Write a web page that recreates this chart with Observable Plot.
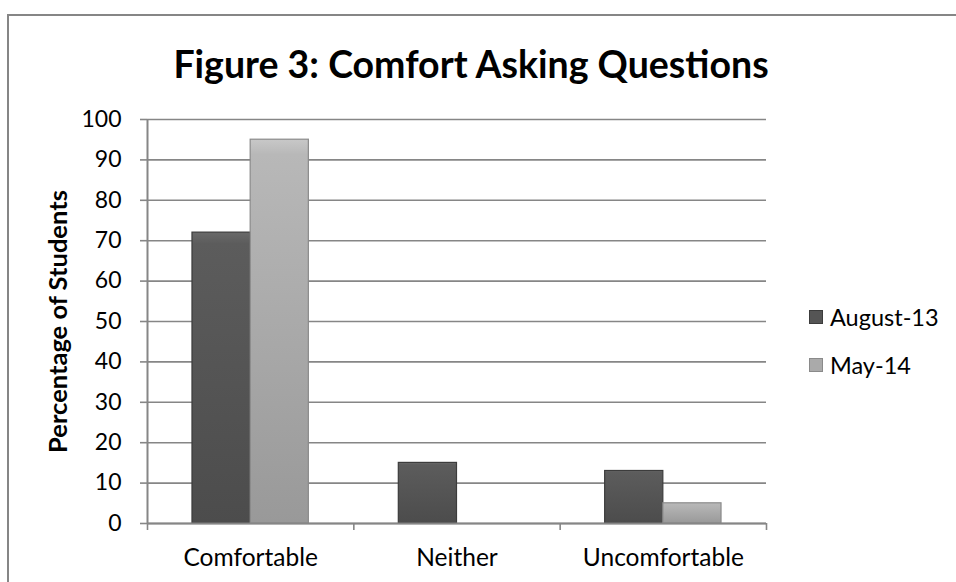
<!DOCTYPE html>
<html>
<head>
<meta charset="utf-8">
<script src="https://cdn.jsdelivr.net/npm/d3@7"></script>
<script src="https://cdn.jsdelivr.net/npm/@observablehq/plot@0.6"></script>
<style>
  html, body { margin: 0; padding: 0; background: #fff; overflow: hidden; }
  #wrap { position: relative; width: 956px; height: 582px; font-family: Lato, "Open Sans", sans-serif; }
  #frame { position: absolute; left: 7px; top: 14px; width: 1200px; height: 900px; border: 2px solid #868686; box-sizing: border-box; }
  #title { position: absolute; left: 0; top: 41px; width: 942px; text-align: center; font-weight: bold; font-size: 37.5px; line-height: 46px; color: #000; }
  #chart { position: absolute; left: 0; top: 0; }
  #legend { position: absolute; left: 809px; top: 293px; font-size: 23.5px; color: #000; }
  .li { display: flex; align-items: center; height: 48px; }
  .sw { width: 14px; height: 14px; margin-right: 7px; box-sizing: border-box; }
</style>
</head>
<body>
<div id="wrap">
  <div id="frame"></div>
  <div id="chart"></div>
  <div id="title">Figure 3: Comfort Asking Questions</div>
  <div id="legend"></div>
</div>
<script>
const categories = ["Comfortable", "Neither", "Uncomfortable"];
const seriesNames = ["August-13", "May-14"];
const august13 = [72, 15, 13];
const may14 = [95, 0, 5];
const yTicks = [0, 10, 20, 30, 40, 50, 60, 70, 80, 90, 100];

const fills = {"August-13": "url(#gAug)", "May-14": "url(#gMay)"};
const strokes = {"August-13": "#3c3c3c", "May-14": "#8a8a8a"};
const swatch = {"August-13": "#555555", "May-14": "#aaaaaa"};

const barW = 0.282; // bar width as fraction of category band
const rows = [];
categories.forEach((c, i) => {
  [august13, may14].forEach((arr, s) => {
    const x1 = i + 0.5 + (s - 1) * barW;
    rows.push({category: c, series: seriesNames[s], value: arr[i], x1, x2: x1 + barW});
  });
});

const chart = Plot.plot({
  width: 956,
  height: 582,
  marginLeft: 147,
  marginRight: 190,
  marginTop: 119,
  marginBottom: 59,
  style: {fontFamily: "Lato, 'Open Sans', sans-serif", fontSize: "23px", color: "#000", background: "transparent"},
  x: {type: "linear", domain: [0, categories.length]},
  y: {domain: [0, 100]},
  marks: [
    Plot.gridY(yTicks, {stroke: "#868686", strokeOpacity: 1, strokeWidth: 1.6}),
    Plot.axisY(yTicks, {tickSize: 7, tickPadding: 19, stroke: "#868686", strokeWidth: 1.6, fontSize: 23,
      label: "Percentage of Students", labelAnchor: "center", labelOffset: 99, labelArrow: "none"}),
    Plot.ruleX([0], {stroke: "#868686", strokeWidth: 2}),
    Plot.rectY(rows, {x1: "x1", x2: "x2", y1: 0, y2: "value",
      fill: d => fills[d.series], stroke: d => strokes[d.series], strokeWidth: 1.2}),
    Plot.ruleY([0], {stroke: "#868686", strokeWidth: 2}),
    Plot.axisX(d3.range(categories.length + 1), {tickSize: 7, stroke: "#868686", strokeWidth: 1.6, tickFormat: () => "", label: null}),
    Plot.axisX(categories.map((c, i) => i + 0.5), {tickSize: 0, tickPadding: 25, fontSize: 24.5, tickFormat: v => categories[Math.floor(v)], label: null})
  ]
});

// gradients for the bevelled bar look
const ns = "http://www.w3.org/2000/svg";
const defs = document.createElementNS(ns, "defs");
defs.innerHTML = `
  <linearGradient id="gAug" x1="0" y1="0" x2="0" y2="1">
    <stop offset="0" stop-color="#6a6a6a"/><stop offset="0.04" stop-color="#5c5c5c"/><stop offset="1" stop-color="#4c4c4c"/>
  </linearGradient>
  <linearGradient id="gMay" x1="0" y1="0" x2="0" y2="1">
    <stop offset="0" stop-color="#c8c8c8"/><stop offset="0.04" stop-color="#b8b8b8"/><stop offset="1" stop-color="#999999"/>
  </linearGradient>`;
chart.insertBefore(defs, chart.firstChild);
// bold, larger y label
chart.querySelectorAll("g[aria-label='y-axis label'] text").forEach(t => {
  t.setAttribute("font-weight", "bold");
  t.setAttribute("font-size", "25.5");
});
document.getElementById("chart").appendChild(chart);

const legend = document.getElementById("legend");
seriesNames.forEach(s => {
  const li = document.createElement("div");
  li.className = "li";
  li.innerHTML = `<div class="sw" style="background:${swatch[s]};border:1px solid ${strokes[s]}"></div><span>${s}</span>`;
  legend.appendChild(li);
});
</script>
</body>
</html>
